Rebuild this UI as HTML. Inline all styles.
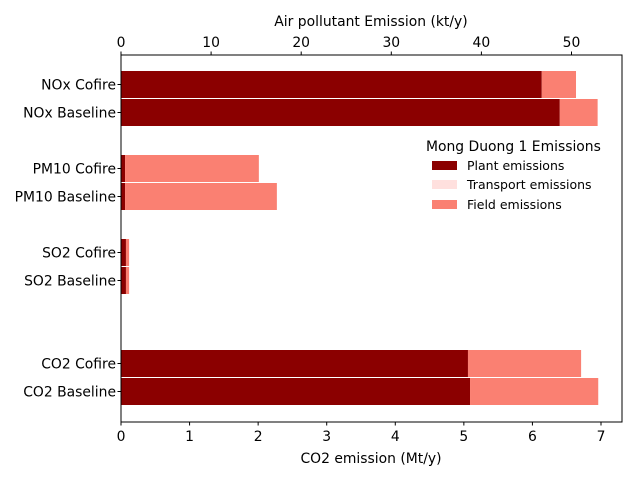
<!DOCTYPE html>
<html><head><meta charset="utf-8"><style>
body{margin:0;background:#fff;}
svg{font-family:"DejaVu Sans","Liberation Sans",sans-serif;}
</style></head><body>
<svg id="chart" width="640" height="480" viewBox="0 0 640 480" style="position:absolute;left:0;top:0"></svg>
<script>
const categories = ["NOx Cofire","NOx Baseline","PM10 Cofire","PM10 Baseline","SO2 Cofire","SO2 Baseline","CO2 Cofire","CO2 Baseline"];
const axisOf = ["top","top","top","top","top","top","bottom","bottom"];
const plantValues = [46.7,48.7,0.45,0.45,0.55,0.55,5.06,5.09];
const transportValues = [0,0,0,0,0,0,0,0];
const fieldValues = [3.8,4.2,14.85,16.85,0.35,0.35,1.65,1.87];
const bottomTicks = [0,1,2,3,4,5,6,7];
const topTicks = [0,10,20,30,40,50];

const NS="http://www.w3.org/2000/svg";
const svg=document.getElementById('chart');
function mk(tag,attrs,parent){const e=document.createElementNS(NS,tag);for(const k in attrs)e.setAttribute(k,attrs[k]);(parent||svg).appendChild(e);return e;}
const L=121,R=622,T=55,B=422;
const xBottom=v=>L+v*68.57;
const xTop=v=>L+v*9.01;
const slotTop=[71,99,155,183,239,267,350,378];
const barH=27;

for(let i=0;i<categories.length;i++){
  const sx=axisOf[i]==="top"?xTop:xBottom;
  const y=slotTop[i];
  let x0=0;
  const segs=[[plantValues[i],"#8b0000","plant"],[transportValues[i],"#ffe0de","transport"],[fieldValues[i],"#fa8072","field"]];
  for(const [v,c,n] of segs){
    if(v>0){
      const r=mk('rect',{x:sx(x0),y:y,width:sx(x0+v)-sx(x0),height:barH,fill:c});
      
      
    }
    x0+=v;
  }
  const t=mk('text',{x:L-5,y:y+barH/2+5,'text-anchor':'end','font-size':13.9,fill:'#000'});
  t.textContent=categories[i];
  
  
  mk('line',{x1:L-3.5,x2:L,y1:y+barH/2,y2:y+barH/2,stroke:'#000'});
}
const frame=mk('rect',{x:L,y:T,width:R-L,height:B-T,fill:'none',stroke:'#000','stroke-width':1});


for(const v of bottomTicks){
  const x=xBottom(v);
  mk('line',{x1:x,x2:x,y1:B,y2:B+3.5,stroke:'#000'});
  const t=mk('text',{x:x,y:B+19,'text-anchor':'middle','font-size':13.9});
  t.textContent=v;
  
  
}
for(const v of topTicks){
  const x=xTop(v);
  mk('line',{x1:x,x2:x,y1:T-3.5,y2:T,stroke:'#000'});
  const t=mk('text',{x:x,y:T-8,'text-anchor':'middle','font-size':13.9});
  t.textContent=v;
  
  
}
</script>
<svg width="640" height="480" style="position:absolute;left:0;top:0">
<g>
<text x="371" y="463" text-anchor="middle" font-size="13.9">CO2 emission (Mt/y)</text>
<text x="371" y="26" text-anchor="middle" font-size="13.9">Air pollutant Emission (kt/y)</text>
<g>
<text x="426" y="151" font-size="13.9">Mong Duong 1 Emissions</text>
<rect x="432" y="161" width="25" height="9" fill="#8b0000"/>
<text x="467" y="170" font-size="12.5">Plant emissions</text>
<rect x="432" y="180" width="25" height="9" fill="#ffe0de"/>
<text x="467" y="189" font-size="12.5">Transport emissions</text>
<rect x="432" y="200" width="25" height="9" fill="#fa8072"/>
<text x="467" y="209" font-size="12.5">Field emissions</text>
</g>
</g>
</svg>
</body></html>
